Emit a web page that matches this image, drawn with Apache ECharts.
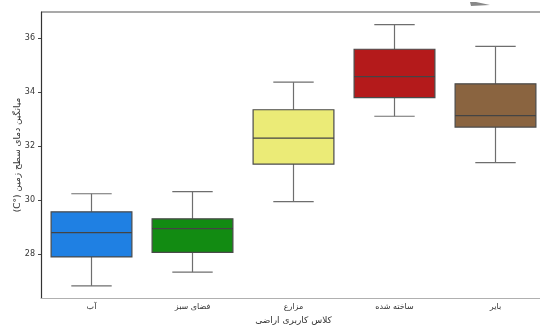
<!DOCTYPE html>
<html>
<head>
<meta charset="utf-8">
<script src="https://cdn.jsdelivr.net/npm/echarts@6/dist/echarts.min.js"></script>
<style>
  html, body { margin: 0; padding: 0; background: #fff; }
  #chart { width: 540px; height: 325px; }
</style>
</head>
<body>
<div id="chart"></div>
<script>
// Land-use classes
const categories = ['آب', 'فضای سبز', 'مزارع', 'ساخته شده', 'بایر'];
// Box statistics per class: [lower whisker, Q1, median, Q3, upper whisker]
const lowerWhisker = [26.82, 27.33, 29.94, 33.10, 31.38];
const q1 = [27.89, 28.06, 31.33, 33.79, 32.70];
const median = [28.79, 28.94, 32.29, 34.57, 33.12];
const q3 = [29.56, 29.30, 33.34, 35.58, 34.30];
const upperWhisker = [30.23, 30.31, 34.36, 36.49, 35.69];
const boxColors = ['#1f80e3', '#128b12', '#ebeb77', '#b41a1b', '#8a6440'];
const yTicks = [28, 30, 32, 34, 36];

const font = 'DejaVu Sans';
const boxData = categories.map((c, i) => [i, lowerWhisker[i], q1[i], median[i], q3[i], upperWhisker[i]]);

// Box with whiskers: box spans 80% of the band, whisker caps 40%
function renderBox(params, api) {
  const idx = api.value(0);
  const band = api.size([1, 0])[0];
  const xc = api.coord([idx, 0])[0];
  const yLow = api.coord([idx, api.value(1)])[1];
  const yQ1 = api.coord([idx, api.value(2)])[1];
  const yMed = api.coord([idx, api.value(3)])[1];
  const yQ3 = api.coord([idx, api.value(4)])[1];
  const yHigh = api.coord([idx, api.value(5)])[1];
  const bw = band * 0.8;
  const cw = band * 0.4;
  const whisker = { stroke: '#6e6e6e', lineWidth: 1.2 };
  return {
    type: 'group',
    children: [
      { type: 'line', shape: { x1: xc, y1: yQ3, x2: xc, y2: yHigh }, style: whisker },
      { type: 'line', shape: { x1: xc, y1: yQ1, x2: xc, y2: yLow }, style: whisker },
      { type: 'line', shape: { x1: xc - cw / 2, y1: yHigh, x2: xc + cw / 2, y2: yHigh }, style: whisker },
      { type: 'line', shape: { x1: xc - cw / 2, y1: yLow, x2: xc + cw / 2, y2: yLow }, style: whisker },
      { type: 'rect', shape: { x: xc - bw / 2, y: yQ3, width: bw, height: yQ1 - yQ3 },
        style: { fill: boxColors[idx], stroke: '#4a4a4a', lineWidth: 1.2 } },
      { type: 'line', shape: { x1: xc - bw / 2, y1: yMed, x2: xc + bw / 2, y2: yMed },
        style: { stroke: '#444', lineWidth: 1.2 } }
    ]
  };
}

const chart = echarts.init(document.getElementById('chart'), null, { renderer: 'canvas' });
chart.setOption({
  animation: false,
  backgroundColor: '#fff',
  grid: { left: 41, top: 12, width: 505, bottom: 27, outerBoundsMode: 'none', containLabel: false },
  xAxis: {
    type: 'category',
    data: categories,
    name: 'کلاس کاربری اراضی',
    nameLocation: 'middle',
    nameGap: 18,
    nameMoveOverlap: false,
    nameTextStyle: { fontFamily: font, fontSize: 9, color: '#333' },
    axisLine: { lineStyle: { color: '#b0b0b0', width: 1.2 } },
    axisTick: { alignWithLabel: true, length: 3, lineStyle: { color: '#444' } },
    axisLabel: { fontFamily: font, fontSize: 8, color: '#333', margin: 5 },
    splitLine: { show: false }
  },
  yAxis: {
    type: 'value',
    min: 26.37,
    max: 36.96,
    name: '(C°) میانگین دمای سطح زمین',
    nameLocation: 'middle',
    nameGap: 19,
    nameMoveOverlap: false,
    nameTextStyle: { fontFamily: font, fontSize: 9, color: '#333' },
    axisLine: { show: true, lineStyle: { color: '#333', width: 1.2 } },
    axisTick: { show: true, length: 3, customValues: yTicks, lineStyle: { color: '#444' } },
    axisLabel: { fontFamily: font, fontSize: 8, color: '#333', margin: 6, customValues: yTicks },
    splitLine: { show: false }
  },
  series: [{
    type: 'custom',
    renderItem: renderBox,
    encode: { x: 0, y: [1, 2, 3, 4, 5] },
    data: boxData,
    clip: false
  }],
  graphic: [
    // top frame line of the plot area
    { type: 'line', shape: { x1: 41, y1: 12, x2: 540, y2: 12 }, style: { stroke: '#555', lineWidth: 1.2 } },
    // small grey wedge above the frame
    { type: 'polygon', shape: { points: [[470, 2], [476, 2], [490, 5], [471, 6]] }, style: { fill: '#888' } }
  ]
});
</script>
</body>
</html>
